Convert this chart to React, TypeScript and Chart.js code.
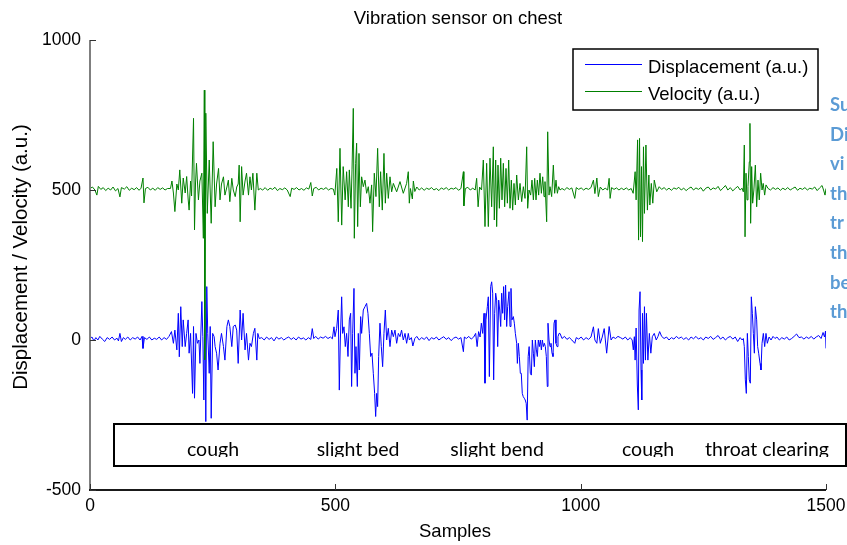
import React, { useEffect, useRef } from "react";
import { Chart, registerables } from "chart.js";

Chart.register(...registerables);

const chartTitle = "Vibration sensor on chest";
const xAxisTitle = "Samples";
const yAxisTitle = "Displacement / Velocity (a.u.)";
const xTicks = [0, 500, 1000, 1500];
const yTicks = [-500, 0, 500, 1000];
const seriesLabels = ["Displacement (a.u.)", "Velocity (a.u.)"];
const eventLabels = ["cough", "slight bed", "slight bend", "cough", "throat clearing"];
const sideNote = ["Su", "Di", "vi", "th", "tr", "th", "be", "th"];

// [sample, value]
const velocity: [number, number][] = [
  [0, 505], [5, 510], [10, 500], [14, 483], [17, 512], [22, 502], [27, 508], [32, 498], [37, 506], [42, 500],
  [47, 510], [52, 497], [57, 505], [61, 477], [64, 508], [70, 503], [75, 511], [80, 499], [85, 506], [90, 501],
  [95, 508], [100, 499], [104, 506], [108, 540], [110, 457], [113, 505], [118, 509], [123, 500], [128, 506], [133, 499],
  [138, 508], [143, 502], [148, 507], [153, 500], [158, 505],
  [164, 505], [167, 530], [170, 490], [173, 428], [177, 520], [180, 500], [183, 567], [187, 456], [190, 540], [194, 490],
  [197, 545], [200, 470], [202, 433], [205, 530], [207, 480], [211, 739], [213, 367], [215, 520], [217, 589], [221, 467],
  [224, 530], [228, 556], [231, 339], [233, 833], [234, -66], [236, 756], [239, 422], [243, 600], [247, 389], [251, 661],
  [255, 444], [258, 520], [262, 572], [265, 467], [268, 520], [272, 544], [275, 483], [279, 510], [282, 533], [285, 461],
  [289, 539], [292, 500], [296, 478], [299, 510], [302, 520], [304, 583], [306, 394], [309, 578], [312, 483], [316, 530],
  [319, 556], [323, 483], [326, 544], [329, 500], [332, 556], [336, 433], [340, 556], [343, 500], [347, 505],
  [352, 500], [357, 508], [362, 499], [367, 506], [372, 502], [377, 509], [382, 498], [387, 505], [392, 501], [397, 507],
  [402, 500], [408, 478], [411, 506], [416, 502], [421, 508], [426, 500], [431, 505], [436, 499], [441, 507], [446, 503],
  [450, 525], [453, 480], [456, 505], [461, 509], [466, 500], [471, 506], [476, 502], [481, 508], [486, 500], [491, 505],
  [496, 503],
  [499, 483], [503, 572], [506, 394], [509.5, 639], [513, 383], [516, 578], [520, 467], [523, 561], [526.5, 444], [528.5, 567],
  [532, 439], [534, 567], [536.6, 772], [538.7, 339], [541.4, 589], [543.4, 656], [545.5, 378], [548.2, 622], [551, 444], [553.6, 544],
  [557, 511], [560.4, 533], [563.8, 489], [567.2, 511], [570.6, 456], [574, 517], [576, 361], [579.4, 556], [582.8, 478], [586.2, 639],
  [589.6, 444], [592.3, 561], [595.7, 433], [599.1, 622], [601.9, 456], [604.6, 556], [608, 472], [611.4, 544], [614.8, 494], [618.2, 522],
  [625, 494], [631.8, 528], [638.5, 489], [645.3, 522], [648.7, 561], [650.8, 456],
  [653, 505], [657, 470], [659, 530], [662, 495], [666, 510], [671, 500], [676, 507], [681, 499], [686, 506], [691, 502],
  [696, 508], [701, 500], [706, 505], [711, 498], [716, 507], [721, 502], [726, 508], [731, 500], [736, 506], [741, 503],
  [746, 508], [751, 499], [756, 505], [761, 561], [762, 447], [765, 505], [770, 509], [775, 500], [780, 506], [785, 500],
  [788, 539], [791, 444], [794, 510], [798, 500],
  [801.6, 600], [805, 378], [808.4, 589], [811.8, 378], [815.2, 606], [818.6, 444], [822, 644], [824, 400], [826.8, 600], [828.8, 378],
  [831.5, 583], [834.3, 439], [837, 606], [839.7, 467], [842.4, 589], [845.1, 444], [847.8, 572], [850.6, 456], [853.3, 600], [856, 439],
  [858.7, 533], [861.4, 433], [864.1, 522], [866.9, 450], [869.6, 550], [873, 467], [876.4, 522], [879.8, 461], [883.2, 511], [886.6, 472],
  [890, 644], [892, 439], [894.7, 500], [898.1, 483], [900.8, 533], [903.6, 467], [906.3, 539], [909, 467], [911.7, 533], [914.4, 483],
  [917.1, 556], [919.9, 489], [922.6, 544], [925.3, 478], [927.3, 528], [930.7, 394], [932.8, 694], [935.5, 483], [937.5, 511], [940.9, 478],
  [944.3, 583], [947, 489], [949.7, 533], [952.5, 489], [955.2, 511], [957.9, 500],
  [962, 505], [967, 500], [972, 508], [977, 502], [982, 507], [988, 472], [991, 508], [996, 502], [1001, 507], [1006, 500],
  [1011, 506], [1016, 502], [1021, 508], [1026, 533], [1029, 488], [1033, 540], [1036, 478], [1040, 510], [1045, 500], [1050, 506],
  [1055, 500], [1058, 539], [1060, 472], [1063, 508], [1068, 502], [1073, 507], [1078, 500], [1083, 506], [1088, 501], [1093, 507],
  [1098, 500], [1103, 505],
  [1107, 489], [1111, 561], [1113, 467], [1116, 667], [1118, 333], [1120, 672], [1122, 344], [1124, 578], [1126, 328], [1128, 644],
  [1130, 422], [1133, 650], [1136, 433], [1139, 550], [1141, 450], [1144, 522], [1147, 456], [1150, 533], [1155, 494], [1160, 511],
  [1165, 502], [1170, 508], [1175, 500], [1180, 506], [1185, 499], [1190, 507], [1195, 503], [1200, 509], [1205, 500], [1210, 506],
  [1215, 498], [1220, 505], [1225, 510], [1230, 500], [1235, 507], [1240, 502], [1245, 508], [1250, 496], [1255, 506], [1260, 510],
  [1265, 500], [1270, 507], [1275, 503], [1280, 512], [1285, 498], [1290, 506], [1295, 515], [1300, 500], [1305, 508], [1310, 497],
  [1315, 505], [1320, 512], [1325, 500], [1329, 506],
  [1331.5, 494], [1333.5, 650], [1335, 344], [1337, 556], [1339, 467], [1341, 511], [1343.7, 594], [1345, 722], [1346.4, 389], [1348.5, 578],
  [1350.5, 456], [1353, 500], [1356, 583], [1358.7, 444], [1361.4, 533], [1364, 467], [1366.8, 556], [1369.6, 500], [1372, 522], [1375, 483],
  [1377.7, 517],
  [1382, 505], [1387, 500], [1392, 508], [1397, 502], [1402, 507], [1407, 499], [1412, 506], [1417, 501], [1422, 508], [1427, 500],
  [1432, 505], [1437, 510], [1442, 499], [1447, 506], [1452, 502], [1457, 508], [1462, 500], [1467, 506], [1472, 503], [1477, 510],
  [1482, 498], [1487, 507], [1492, 515], [1495, 500], [1498, 483], [1500, 505],
];

const displacement: [number, number][] = [
  [0, 5], [4, 10], [8, -3], [12, 8], [16, 0], [20, 12], [25, 3], [30, -5], [35, 8], [40, 2],
  [45, 10], [50, 0], [55, 6], [58, -3], [61, 22], [64, -5], [68, 8], [72, 2], [77, 10], [82, 0],
  [87, 8], [92, 3], [97, 10], [102, 0], [106, 12], [108, -28], [111, 8], [116, 2], [121, 10], [126, 0],
  [131, 6], [136, 2], [141, 10], [146, 0], [151, 8], [156, 2], [161, 12],
  [166, 28], [170, -11], [173, 33], [177, -33], [180, 89], [182, -56], [185, 111], [188, -22], [190, 67], [194, -22],
  [197, 22], [200, 67], [202, -44], [205, 22], [209, -178], [211, 45], [213, -194], [216, 22], [219, -11], [222, 0],
  [224, -78], [228, 128], [230, 11], [232, -200], [234, 133], [236, -272], [238, 178], [240, 22], [243, -111], [245, 45],
  [247, -261], [250, 22], [253, 11], [255, -22], [258, -44], [261, -100], [265, -11], [268, 22], [272, -22], [275, -67],
  [279, 45], [282, 67], [285, 45], [289, -22], [292, 45], [296, 50], [299, 33], [302, -78], [306, 100], [309, 0],
  [312, 89], [316, -33], [319, 22], [323, -67], [326, -11], [329, -22], [333, 22], [336, 39], [340, -67], [342, 22],
  [345, 5],
  [350, 8], [355, 0], [360, 10], [365, 2], [370, 8], [375, -3], [380, 10], [385, 3], [390, 8], [395, 0],
  [400, 6], [405, 10], [410, 2], [415, 8], [420, 0], [425, 10], [430, 3], [435, 7], [440, 0], [445, 8],
  [450, 2], [453, 38], [456, 5], [460, 12], [465, 3], [470, 10], [475, 6], [480, 12], [485, 5], [490, 10],
  [494, 4],
  [497.2, 44], [499.3, 11], [502.7, 39], [506, 100], [508.1, -167], [510.2, 0], [512.9, 144], [514.9, 22], [517.6, 44], [520.3, -22],
  [523, 22], [525.8, -55], [528.5, 67], [531.2, 89], [533.2, -155], [535.3, 22], [538, 172], [540, -111], [542.1, -22], [544.8, -155],
  [546.8, 22], [548.9, -100], [551.6, 78], [553.6, 22], [557, 100], [560.4, 111], [563.8, 122], [566.5, 89], [569.3, 22], [572, -55],
  [574.7, -44], [577.4, -111], [580.1, -178], [582.2, -255], [584.2, -178], [586.2, -222], [588.3, -55], [591, 56], [593.7, -22], [596.4, -89],
  [599.1, 22], [601.9, 100], [604.6, 0], [608, 39], [611.4, -22], [614.8, 33], [618.2, 11], [621.6, 33], [625, -11], [628.4, 22],
  [631.8, 11], [635, 33], [638.5, 0], [642, 22], [645.3, -11], [648.7, 22], [651, 0],
  [655, 8], [658, -20], [662, 5], [666, 12], [671, 0], [676, 8], [681, 2], [686, 10], [691, -2], [696, 8],
  [701, 3], [706, 10], [711, 0], [716, 6], [721, 11], [726, 2], [731, 8], [736, -2], [741, 6], [746, 10],
  [751, 3], [756, 8], [761, -39], [763, 10], [767, 5], [772, 12], [777, 3], [782, 10], [786, 22], [789, -22],
  [792, 28], [795, 10], [797.6, 56], [800.3, 22],
  [803, 89], [805, -144], [807, 67], [809.8, 111], [811.8, 144], [813.9, -122], [816.6, 178], [818.6, 194], [820.7, 156], [822.7, -133],
  [824.7, 89], [826.8, 156], [828.8, 133], [830.9, -22], [832.9, 133], [835, 100], [837, 45], [839, 156], [841, 89], [843, 178],
  [845, 67], [847, 183], [849.2, 45], [851.2, 111], [854, 161], [856, 45], [858, 172], [860, 67], [862.8, 78], [864.8, 56],
  [866.9, 22], [869.6, -11], [871, -78], [873, -11], [875, -55], [877, -111], [879, -111], [881, -178], [883, -189], [885, -194],
  [887, -200], [889, -211], [891, -267], [893, -55], [895, -22], [897.4, -111], [899.5, -117], [901.5, 0], [903.6, -44], [905.6, -89],
  [907.6, 0], [909.7, -33], [911.7, -55], [913.7, 0], [915.8, -22], [917.8, 0], [919.9, -33], [921.9, 0], [924, -22], [926, -11],
  [928, -22], [930, -55], [932, -155], [933.4, 56], [935.5, 0], [937.5, -22], [939.5, -11], [941.6, -44], [943.6, -55], [945.7, 56],
  [947.7, 67], [949.7, -11], [951.8, -22], [953.8, 11], [955.9, 22], [957.9, 22],
  [962, 5], [967, 12], [972, 2], [977, 8], [982, 0], [988, -11], [991, 8], [996, 3], [1001, 10], [1006, 0],
  [1011, 8], [1016, 2], [1021, 10], [1026, 44], [1029, 0], [1033, -11], [1036, 38], [1040, -11], [1044, 10], [1048, 38],
  [1053, -44], [1058, 45], [1062, 0], [1066, 10], [1071, 5], [1076, 12], [1081, 8], [1086, 3], [1091, 10], [1096, 0],
  [1101, 8], [1105, 0],
  [1107.3, -33], [1109.4, 11], [1111, -67], [1113, 40], [1115.5, -150], [1117.5, -233], [1119, 100], [1121, 161], [1123, -100], [1124.5, -200],
  [1126, 89], [1128, -78], [1130, 111], [1132, -67], [1134, 89], [1137, -67], [1140, 22], [1143, -44], [1146, 11], [1150, 22],
  [1154, 0], [1157.6, 12], [1161, 28],
  [1165, 12], [1170, 5], [1175, 10], [1180, 0], [1185, 8], [1190, 3], [1195, 12], [1200, 5], [1205, 10], [1210, 2],
  [1215, 8], [1220, 0], [1225, 10], [1230, 4], [1235, 12], [1240, 3], [1245, 8], [1250, 0], [1255, 10], [1260, 5],
  [1265, 12], [1270, 2], [1275, 8], [1280, 15], [1285, 3], [1290, 10], [1295, 0], [1300, 8], [1305, 12], [1310, 3],
  [1315, 10], [1320, -5], [1325, 8], [1329, 0],
  [1331.5, 5], [1333.5, -22], [1335.6, -133], [1337.6, -178], [1339.7, 22], [1341.7, -55], [1343.7, -133], [1345.8, -144], [1347.8, 144], [1349.9, 89],
  [1351.9, 22], [1354, -44], [1356, 111], [1358.7, 67], [1360.7, -22], [1362.8, -44], [1365.5, -78], [1367.5, -100], [1369.6, -11], [1372.3, 22],
  [1375, -22], [1377.7, 22], [1380.4, -11],
  [1384, 10], [1388, 0], [1392, 12], [1396, 5], [1400, 10], [1405, 0], [1410, 8], [1415, 3], [1420, 10], [1425, 0],
  [1430, 5], [1435, 12], [1440, 20], [1445, 8], [1450, 10], [1455, 3], [1460, 10], [1465, 5], [1470, 12], [1475, 3],
  [1480, 10], [1485, 15], [1490, 5], [1494, 25], [1497, 10], [1499, 30], [1500, -28],
];

const BLUE = "#0000ff";
const GREEN = "#008000";
const SANS = "'Liberation Sans', Arial, sans-serif";
const CALIBRI_LIKE = "Lato, 'Open Sans', sans-serif";

const overlayPlugin = {
  id: "overlay",
  afterDraw(chart: any) {
    const ctx: CanvasRenderingContext2D = chart.ctx;
    const { left, right, top, bottom } = chart.chartArea;
    const xs = chart.scales.x;
    const ys = chart.scales.y;
    ctx.save();

    // axes (left and bottom only, MATLAB style)
    ctx.lineWidth = 2;
    ctx.strokeStyle = "#7f7f7f";
    ctx.beginPath();
    ctx.moveTo(left, top);
    ctx.lineTo(left, bottom);
    ctx.stroke();
    ctx.strokeStyle = "#1a1a1a";
    ctx.beginPath();
    ctx.moveTo(left - 1, bottom);
    ctx.lineTo(right, bottom);
    ctx.stroke();

    ctx.lineWidth = 1;
    ctx.strokeStyle = "#333333";
    yTicks.forEach((v) => {
      const y = Math.round(ys.getPixelForValue(v)) + 0.5;
      ctx.beginPath();
      ctx.moveTo(left, y);
      ctx.lineTo(left + 6, y);
      ctx.stroke();
    });
    xTicks.forEach((v) => {
      const x = Math.round(xs.getPixelForValue(v)) + 0.5;
      ctx.beginPath();
      ctx.moveTo(x, bottom);
      ctx.lineTo(x, bottom - 6);
      ctx.stroke();
    });

    // title and axis titles
    ctx.fillStyle = "#000";
    ctx.font = `18.5px ${SANS}`;
    ctx.textAlign = "center";
    ctx.textBaseline = "alphabetic";
    ctx.fillText(chartTitle, (left + right) / 2, 24);
    ctx.fillText(xAxisTitle, (left + right) / 2 - 3, 537);
    ctx.save();
    ctx.translate(27, 257);
    ctx.rotate(-Math.PI / 2);
    ctx.font = `20.5px ${SANS}`;
    ctx.fillText(yAxisTitle, 0, 0);
    ctx.restore();

    // legend
    const lx = 573, ly = 49, lw = 245, lh = 61;
    ctx.fillStyle = "#fff";
    ctx.fillRect(lx, ly, lw, lh);
    ctx.strokeStyle = "#000";
    ctx.lineWidth = 1.5;
    ctx.strokeRect(lx, ly, lw, lh);
    const colors = [BLUE, GREEN];
    const rowY = [64.5, 91.5];
    seriesLabels.forEach((lab, i) => {
      ctx.strokeStyle = colors[i];
      ctx.lineWidth = 1;
      ctx.beginPath();
      ctx.moveTo(585, rowY[i]);
      ctx.lineTo(642, rowY[i]);
      ctx.stroke();
      ctx.fillStyle = "#000";
      ctx.font = `18.5px ${SANS}`;
      ctx.textAlign = "left";
      ctx.textBaseline = "alphabetic";
      ctx.fillText(lab, 648, rowY[i] + 8.5);
    });

    // annotation box
    const bx = 114, by = 424, bw = 732, bh = 42;
    ctx.fillStyle = "#fff";
    ctx.fillRect(bx, by, bw, bh);
    ctx.strokeStyle = "#000";
    ctx.lineWidth = 2;
    ctx.strokeRect(bx, by, bw, bh);
    ctx.save();
    ctx.beginPath();
    ctx.rect(bx + 1, by + 1, bw - 2, 457 - by - 1);
    ctx.clip();
    ctx.fillStyle = "#000";
    ctx.font = `19.5px ${CALIBRI_LIKE}`;
    ctx.textAlign = "center";
    const centers = [213, 358, 497, 648, 767];
    eventLabels.forEach((lab, i) => ctx.fillText(lab, centers[i], 456));
    ctx.restore();

    // side note (clipped text at right edge)
    ctx.fillStyle = "#5b9bd5";
    ctx.font = `bold 18.5px ${CALIBRI_LIKE}`;
    ctx.textAlign = "left";
    sideNote.forEach((t, i) => ctx.fillText(t, 830, 111 + i * 29.6));

    ctx.restore();
  },
};

export default function App() {
  const canvasRef = useRef<HTMLCanvasElement | null>(null);

  useEffect(() => {
    if (!canvasRef.current) return;
    const chart = new Chart(canvasRef.current, {
      type: "line",
      data: {
        datasets: [
          {
            label: seriesLabels[1],
            data: velocity.map(([x, y]) => ({ x, y })),
            borderColor: GREEN,
            backgroundColor: GREEN,
            borderWidth: 1,
            pointRadius: 0,
            tension: 0,
            fill: false,
            order: 0,
          },
          {
            label: seriesLabels[0],
            data: displacement.map(([x, y]) => ({ x, y })),
            borderColor: BLUE,
            backgroundColor: BLUE,
            borderWidth: 1,
            pointRadius: 0,
            tension: 0,
            fill: false,
            order: 1,
          },
        ],
      },
      options: {
        responsive: false,
        animation: false,
        devicePixelRatio: 1,
        layout: { padding: { top: 40, right: 21, left: 0, bottom: 0 } },
        plugins: {
          legend: { display: false },
          title: { display: false },
          tooltip: { enabled: false },
        },
        scales: {
          x: {
            type: "linear",
            min: 0,
            max: 1500,
            afterFit: (s: any) => {
              s.height = 55;
              s.paddingLeft = 0;
              s.paddingRight = 0;
            },
            afterBuildTicks: (s: any) => {
              s.ticks = xTicks.map((v) => ({ value: v }));
            },
            grid: { display: false, drawTicks: false },
            border: { display: false },
            ticks: {
              padding: 6,
              maxRotation: 0,
              autoSkip: false,
              color: "#000",
              font: { family: SANS, size: 17.5 },
              callback: (v: any) => String(v),
            },
          },
          y: {
            type: "linear",
            min: -500,
            max: 1000,
            afterFit: (s: any) => {
              s.width = 90;
              s.paddingTop = 0;
              s.paddingBottom = 0;
            },
            afterBuildTicks: (s: any) => {
              s.ticks = yTicks.map((v) => ({ value: v }));
            },
            grid: { display: false, drawTicks: false },
            border: { display: false },
            ticks: {
              padding: 9,
              autoSkip: false,
              color: "#000",
              font: { family: SANS, size: 17.5 },
              callback: (v: any) => String(v),
            },
          },
        },
      },
      plugins: [overlayPlugin],
    });
    return () => chart.destroy();
  }, []);

  return (
    <div style={{ position: "absolute", left: 0, top: 0, width: 847, height: 545, background: "#fff" }}>
      <canvas ref={canvasRef} width={847} height={545} style={{ display: "block" }} />
    </div>
  );
}
